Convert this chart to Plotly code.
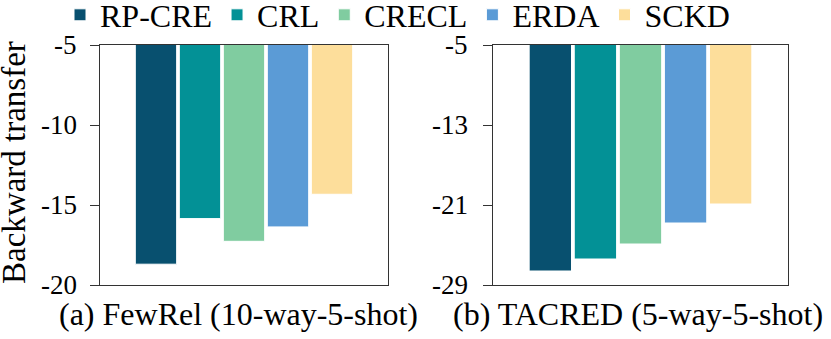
import plotly.graph_objects as go

methods = ["RP-CRE", "CRL", "CRECL", "ERDA", "SCKD"]
colors = ["#08506F", "#039196", "#80CCA0", "#5B9BD6", "#FDDE9B"]
fewrel_bwt = [-18.7, -15.85, -17.27, -16.37, -14.33]
tacred_bwt = [-27.6, -26.4, -24.9, -22.8, -20.9]
fewrel_ticks = [-5, -10, -15, -20]
tacred_ticks = [-5, -13, -21, -29]
captions = ["(a) FewRel (10-way-5-shot)", "(b) TACRED (5-way-5-shot)"]
ytitle = "Backward transfer"

FONT = "Liberation Serif"

def f(size, fam=FONT):
    return dict(family=fam, size=size, color="black")

def serif(s):
    return "<span style='font-family:Liberation Serif'>%s</span>" % s

fig = go.Figure()
for i, m in enumerate(methods):
    fig.add_trace(go.Bar(x=["FewRel"], y=[fewrel_bwt[i]], name=serif(m), legendgroup=m,
                         marker=dict(color=colors[i], line=dict(color="white", width=1)),
                         xaxis="x", yaxis="y", showlegend=True))
    fig.add_trace(go.Bar(x=["TACRED"], y=[tacred_bwt[i]], name=serif(m), legendgroup=m,
                         marker=dict(color=colors[i], line=dict(color="white", width=1)),
                         xaxis="x2", yaxis="y2", showlegend=False))

W, H = 831, 339
L, R, T, B = 100, 831 - 788, 45, 339 - 285
PW = W - L - R
PH = H - T - B

def px_x(x):
    return (x - L) / PW

def px_y(y):
    return (H - B - y) / PH

axis_common = dict(showline=True, mirror=True, linecolor="#333333", linewidth=1.2,
                   showgrid=False, zeroline=False)
ytick_common = dict(ticks="outside", ticklen=9, tickcolor="#333333", showticklabels=False)

annotations = [
    dict(text=captions[0], x=px_x(238), y=px_y(334), xref="paper", yref="paper",
         xanchor="center", yanchor="bottom", showarrow=False, font=f(32)),
    dict(text=captions[1], x=px_x(638), y=px_y(334), xref="paper", yref="paper",
         xanchor="center", yanchor="bottom", showarrow=False, font=f(32)),
    dict(text=ytitle, x=px_x(14), y=px_y(163), xref="paper", yref="paper",
         showarrow=False, textangle=-90, font=f(33), xanchor="center", yanchor="middle"),
]
# y tick labels, placed on the axes' own scales
for t in fewrel_ticks:
    annotations.append(dict(text=serif(t), x=px_x(79), y=t, xref="paper", yref="y",
                            xanchor="right", yanchor="middle", showarrow=False, font=f(27)))
for t in tacred_ticks:
    annotations.append(dict(text=serif(t), x=px_x(470), y=t, xref="paper", yref="y2",
                            xanchor="right", yanchor="middle", showarrow=False, font=f(27)))

fig.update_layout(
    template="none",
    width=W, height=H, autosize=False,
    margin=dict(l=L, r=R, t=T, b=B, autoexpand=False),
    paper_bgcolor="white", plot_bgcolor="white",
    font=f(26),
    barmode="group", bargap=0.236, bargroupgap=0.06,
    xaxis=dict(domain=[0, px_x(388)], showticklabels=False, ticks="", anchor="y",
               range=[-0.5, 0.5], **axis_common),
    xaxis2=dict(domain=[px_x(493), 1], showticklabels=False, ticks="", anchor="y2",
                range=[-0.5, 0.5], **axis_common),
    yaxis=dict(domain=[0, 1], range=[-20, -5], tickvals=fewrel_ticks, anchor="x",
               **ytick_common, **axis_common),
    yaxis2=dict(domain=[0, 1], anchor="x2", range=[-29, -5], tickvals=tacred_ticks,
                **ytick_common, **axis_common),
    legend=dict(orientation="h", x=60 / W, y=1 - 15 / H, xref="container", yref="container",
                xanchor="left", yanchor="middle",
                font=f(32), itemwidth=30, tracegroupgap=0,
                bgcolor="rgba(0,0,0,0)"),
    annotations=annotations,
)

post = """
document.body.style.margin = '0';
document.body.style.padding = '0';
function fixFonts(){
  document.querySelectorAll('svg text, svg tspan').forEach(function(t){
    t.style.setProperty('font-family', "'Liberation Serif', serif", 'important');
  });
}
fixFonts();
setTimeout(fixFonts, 0);
setTimeout(fixFonts, 200);
"""

fig.write_html("out.html", post_script=post, config={"displayModeBar": False})
